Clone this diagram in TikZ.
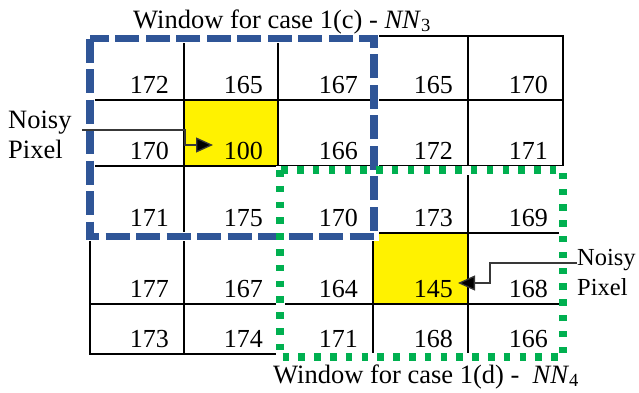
\documentclass[tikz,border=0pt]{standalone}
\usepackage{fontspec}
\setmainfont{Liberation Serif}
\usetikzlibrary{arrows.meta}
\definecolor{wblue}{HTML}{2F5597}
\definecolor{wgreen}{HTML}{00B050}
\begin{document}
\begin{tikzpicture}[x=1pt,y=-1pt,
  gridline/.style={line width=2pt, line cap=rect},
  val/.style={anchor=base east, inner sep=0pt, font=\fontsize{26}{30}\selectfont},
  lbl/.style={anchor=base west, inner sep=0pt, font=\fontsize{26.5}{30}\selectfont},
  rlbl/.style={anchor=base west, inner sep=0pt, font=\fontsize{24.5}{30}\selectfont},
  ptr/.style={line width=1.3pt, draw=black!78, -{Triangle[length=17pt,width=15pt,fill=black]}},
  under/.style={white, line width=9pt},
  bluewin/.style={wblue, line width=7.5pt, dash pattern=on 24pt off 6.5pt},
  greenwin/.style={wgreen, line width=7.5pt, dash pattern=on 6.5pt off 9.3pt},
  noisy/.style={fill=yellow}
]
\useasboundingbox (0,0) rectangle (639,392);
% yellow cells
\fill[noisy] (184,100) rectangle (278,166);
\fill[noisy] (373,233) rectangle (468,304);
% grid
\foreach \x in {90,184,278,373,468,563} \draw[gridline] (\x,36) -- (\x,354);
\foreach \y in {36,100,166,233,304,354} \draw[gridline] (90,\y) -- (563,\y);
% values row 1
\node[val] (v11) at (169,93) {172};
\node[val] (v12) at (263,93) {165};
\node[val] (v13) at (358,93) {167};
\node[val] (v14) at (453,93) {165};
\node[val] (v15) at (548,93) {170};
% row 2
\node[val] (v21) at (169,159) {170};
\node[val] (v22) at (263,159) {100};
\node[val] (v23) at (358,159) {166};
\node[val] (v24) at (453,159) {172};
\node[val] (v25) at (548,159) {171};
% row 3
\node[val] (v31) at (169,226) {171};
\node[val] (v32) at (263,226) {175};
\node[val] (v33) at (358,226) {170};
\node[val] (v34) at (453,226) {173};
\node[val] (v35) at (548,226) {169};
% row 4
\node[val] (v41) at (169,297) {177};
\node[val] (v42) at (263,297) {167};
\node[val] (v43) at (358,297) {164};
\node[val] (v44) at (453,297) {145};
\node[val] (v45) at (548,297) {168};
% row 5
\node[val] (v51) at (169,347) {173};
\node[val] (v52) at (263,347) {174};
\node[val] (v53) at (358,347) {171};
\node[val] (v54) at (453,347) {168};
\node[val] (v55) at (548,347) {166};
% windows
\draw[under] (90,38.5) rectangle (374,236.5);
\draw[under] (280,170) rectangle (563,357);
\draw[bluewin] (90,38.5) rectangle (374,236.5);
\draw[greenwin] (280,170) rectangle (563,357);
% labels
\node[lbl] (t1) at (133,28) {Window for case 1(c) - \textit{NN}\textsubscript{3}};
\node[lbl] (t2) at (273,383) {Window for case 1(d) -\ \ \textit{NN}\textsubscript{4}};
\node[lbl] (n1a) at (8,128) {Noisy};
\node[lbl] (n1b) at (8,158) {Pixel};
\node[rlbl] (n2a) at (577,265) {Noisy};
\node[rlbl] (n2b) at (577,295) {Pixel};
% arrows
\coordinate (a1s) at (82,130);
\coordinate (a1t) at (213,145);
\coordinate (a2s) at (577,263);
\coordinate (a2t) at (458,283);
\draw[ptr] (a1s) -- (185,130) -- (185,145) -- (a1t);
\draw[ptr] (a2s) -- (490,263) -- (490,283) -- (a2t);
\end{tikzpicture}
\end{document}
